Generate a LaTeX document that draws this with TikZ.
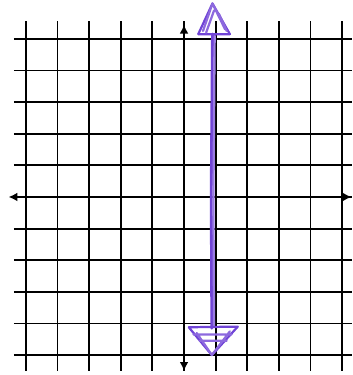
\documentclass[tikz,border=0pt]{standalone}
\usepackage{tikz}
\usetikzlibrary{arrows.meta}

\definecolor{penviolet}{RGB}{112,68,214}

\begin{document}
\begin{tikzpicture}[
    gridline/.style={line width=1.7pt,black},
    axisline/.style={line width=2.6pt,black,{Latex[length=8pt,width=8pt]}-{Latex[length=8pt,width=8pt]}},
    penline/.style={line width=2pt,penviolet,line join=round,line cap=round}]
  \useasboundingbox (-5.82,-5.63) rectangle (5.32,6.23);
  % grid
  \foreach \i in {-5,...,5}{
    \draw[gridline] (\i,-5.5) -- (\i,5.55);
    \draw[gridline] (-5.38,\i) -- (5.32,\i);
  }
  % axes
  \draw[axisline] (-5.55,0) -- (5.3,0);
  \draw[axisline] (0,-5.5) -- (0,5.45);
  % the vertical line x = 1
  \coordinate (top) at (0.9,6.12);
  \coordinate (bot) at (0.88,-5.0);
  \draw[penline,line width=2.6pt] (0.9,5.15) -- (0.86,0) -- (0.88,-4.15);
  \draw[penline,penviolet!70] (0.97,5.1) -- (0.93,0) -- (0.95,-4.1);
  \draw[penline] (top) -- (0.45,5.15) -- (1.45,5.15) -- cycle;
  \draw[penline,penviolet!80] (top) -- (0.6,5.25) (top) -- (1.3,5.3) (0.95,5.9) -- (0.7,5.2)
    (1.1,5.8) -- (1.35,5.25);
  \draw[penline] (bot) -- (0.15,-4.12) -- (1.7,-4.1) -- cycle;
  \draw[penline,penviolet!80] (bot) -- (0.4,-4.3) (bot) -- (1.45,-4.25) (0.3,-4.35) -- (1.5,-4.35)
    (0.5,-4.55) -- (1.35,-4.55);
\end{tikzpicture}
\end{document}
